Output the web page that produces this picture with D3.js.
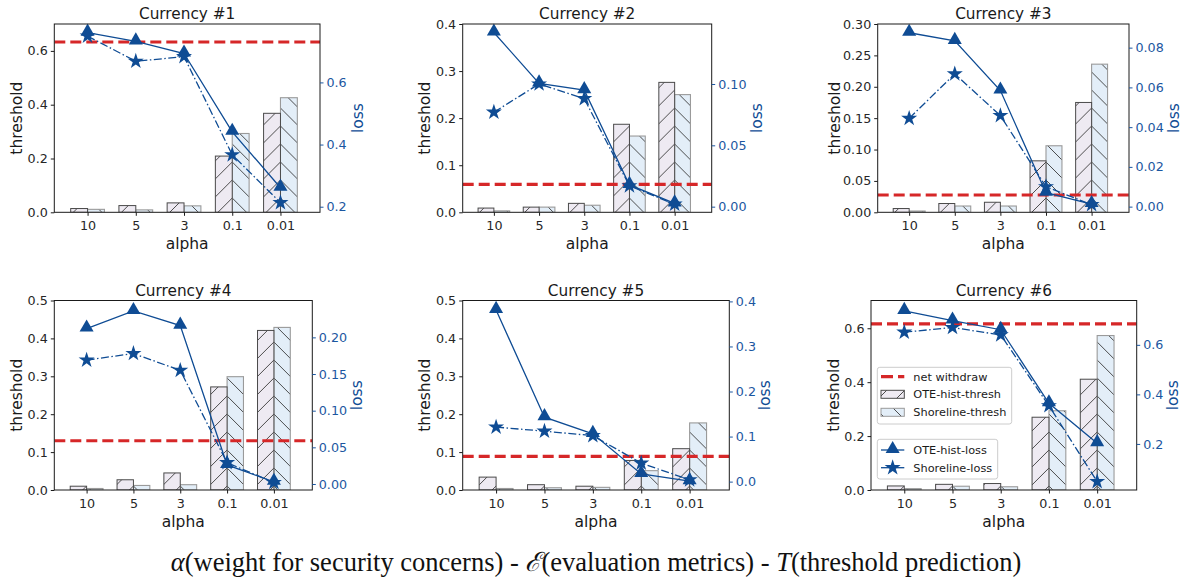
<!DOCTYPE html>
<html><head><meta charset="utf-8">
<script src="https://cdn.jsdelivr.net/npm/d3@7"></script>
<style>body{margin:0;background:#fff}svg{display:block}</style>
</head><body><svg id="c" width="1186" height="582"></svg>
<script>
// ---------------- DATA ----------------
const categories = ["10", "5", "3", "0.1", "0.01"];
const titles = ["Currency #1", "Currency #2", "Currency #3", "Currency #4", "Currency #5", "Currency #6"];
const oteThresh = [
  [0.014, 0.025, 0.035, 0.209, 0.368],
  [0.009, 0.011, 0.019, 0.187, 0.276],
  [0.006, 0.014, 0.016, 0.082, 0.175],
  [0.010, 0.027, 0.045, 0.272, 0.421],
  [0.034, 0.014, 0.010, 0.078, 0.109],
  [0.015, 0.021, 0.024, 0.270, 0.411]
];
const shoreThresh = [
  [0.011, 0.009, 0.024, 0.293, 0.426],
  [0.003, 0.011, 0.015, 0.162, 0.250],
  [0.002, 0.010, 0.010, 0.106, 0.236],
  [0.004, 0.012, 0.014, 0.299, 0.429],
  [0.004, 0.006, 0.007, 0.051, 0.177],
  [0.005, 0.014, 0.012, 0.294, 0.573]
];
const netWithdraw = [0.633, 0.0595, 0.0276, 0.130, 0.0885, 0.616];
const oteLoss = [
  [0.760, 0.732, 0.693, 0.441, 0.261],
  [0.142, 0.1005, 0.095, 0.0177, 0.0027],
  [0.0875, 0.0834, 0.0584, 0.007, 0.0013],
  [0.212, 0.236, 0.216, 0.026, 0.003],
  [0.381, 0.143, 0.106, 0.017, 0.001],
  [0.737, 0.698, 0.661, 0.364, 0.203]
];
const shoreLoss = [
  [0.749, 0.668, 0.683, 0.367, 0.213],
  [0.077, 0.100, 0.088, 0.017, 0.002],
  [0.0444, 0.0668, 0.0458, 0.010, 0.001],
  [0.169, 0.178, 0.155, 0.029, 0.002],
  [0.121, 0.112, 0.102, 0.041, 0.004],
  [0.651, 0.670, 0.640, 0.354, 0.048]
];
const threshDomains = [[0, 0.70], [0, 0.40], [0, 0.30], [0, 0.50], [0, 0.50], [0, 0.703]];
const lossDomains = [[0.182, 0.788], [-0.0046, 0.1489], [-0.00285, 0.0919], [-0.0082, 0.2503], [-0.0186, 0.402], [0.014, 0.779]];
const threshTicks = [
  [0, 0.2, 0.4, 0.6],
  [0, 0.1, 0.2, 0.3, 0.4],
  [0, 0.05, 0.10, 0.15, 0.20, 0.25, 0.30],
  [0, 0.1, 0.2, 0.3, 0.4, 0.5],
  [0, 0.1, 0.2, 0.3, 0.4, 0.5],
  [0, 0.2, 0.4, 0.6]
];
const threshDecimals = [1, 1, 2, 1, 1, 1];
const lossTicks = [
  [0.2, 0.4, 0.6],
  [0, 0.05, 0.10],
  [0, 0.02, 0.04, 0.06, 0.08],
  [0, 0.05, 0.10, 0.15, 0.20],
  [0, 0.1, 0.2, 0.3, 0.4],
  [0.2, 0.4, 0.6]
];
const lossDecimals = [1, 2, 2, 2, 1, 1];
const legendThreshLabels = ["net withdraw", "OTE-hist-thresh", "Shoreline-thresh"];
const legendLossLabels = ["OTE-hist-loss", "Shoreline-loss"];

// ---------------- LAYOUT / STYLE ----------------
const layout = [
  {l: 54.3, r: 320, t: 24, b: 212.3, ylabX: 16.7, lossX: 357.3},
  {l: 462.7, r: 711.7, t: 24, b: 212.3, ylabX: 425, lossX: 756.7},
  {l: 877.7, r: 1129, t: 24, b: 212.3, ylabX: 834.3, lossX: 1173.3},
  {l: 54.3, r: 312.3, t: 300.5, b: 490, ylabX: 16.7, lossX: 356.7},
  {l: 462.7, r: 729.3, t: 300.5, b: 490, ylabX: 425, lossX: 765},
  {l: 871, r: 1136.7, t: 300.5, b: 490, ylabX: 833.3, lossX: 1172.7}
];
const xDomain = [-0.69, 4.82];
const barW = 0.35;
const lineColor = "#0f4c94", tickBlue = "#1b56a0", red = "#d62728";
const oteFill = "#eeeaf2", shoreFill = "#e3eef8";
const hatchColor = "#3a3a3a";
const font = "'DejaVu Sans', sans-serif";
const tickFs = 12.7, labFs = 15.5, titleFs = 15.3, legFs = 11.3;
const S = 18; // hatch spacing

const svg = d3.select("#c");
const defs = svg.append("defs");
let patId = 0;
function hatch(x0, dir) {
  const id = "h" + (patId++);
  const p = defs.append("pattern").attr("id", id).attr("patternUnits", "userSpaceOnUse")
    .attr("width", S).attr("height", S).attr("x", x0).attr("y", 0);
  const d = dir > 0
    ? `M0,${S} L${S},0 M-2,2 L2,-2 M${S - 2},${S + 2} L${S + 2},${S - 2}`
    : `M0,0 L${S},${S} M-2,${S - 2} L2,${S + 2} M${S - 2},-2 L${S + 2},2`;
  p.append("path").attr("d", d).attr("stroke", hatchColor).attr("stroke-width", 0.9).attr("fill", "none");
  return "url(#" + id + ")";
}

const triangle = d3.symbol().type(d3.symbolTriangle).size(85);
const star = d3.symbol().type(d3.symbolStar).size(80);

titles.forEach((title, pi) => {
  const L = layout[pi];
  const x = d3.scaleLinear().domain(xDomain).range([L.l, L.r]);
  const y = d3.scaleLinear().domain(threshDomains[pi]).range([L.b, L.t]);
  const y2 = d3.scaleLinear().domain(lossDomains[pi]).range([L.b, L.t]);
  const g = svg.append("g");
  const clipId = "clip" + pi;
  defs.append("clipPath").attr("id", clipId).append("rect")
    .attr("x", L.l).attr("y", L.t).attr("width", L.r - L.l).attr("height", L.b - L.t);
  const plot = g.append("g").attr("clip-path", `url(#${clipId})`);

  // bars: shoreline first, then OTE (so its dark edge shows in the middle)
  categories.forEach((c, i) => {
    const xs = x(i), x0 = x(i - barW), x1 = x(i + barW);
    const vs = shoreThresh[pi][i], vo = oteThresh[pi][i];
    const pS = hatch(xs, -1), pO = hatch(xs, 1);
    plot.append("rect").attr("x", xs).attr("y", y(vs)).attr("width", x1 - xs).attr("height", y(0) - y(vs)).attr("fill", shoreFill);
    plot.append("rect").attr("x", xs).attr("y", y(vs)).attr("width", x1 - xs).attr("height", y(0) - y(vs)).attr("fill", pS)
      .attr("stroke", "#9a9a9a").attr("stroke-width", 1.1);
    plot.append("rect").attr("x", x0).attr("y", y(vo)).attr("width", xs - x0).attr("height", y(0) - y(vo)).attr("fill", oteFill);
    plot.append("rect").attr("x", x0).attr("y", y(vo)).attr("width", xs - x0).attr("height", y(0) - y(vo)).attr("fill", pO)
      .attr("stroke", "#4a4a4a").attr("stroke-width", 1);
  });

  // net withdraw
  plot.append("line").attr("x1", L.l).attr("x2", L.r).attr("y1", y(netWithdraw[pi])).attr("y2", y(netWithdraw[pi]))
    .attr("stroke", red).attr("stroke-width", 3.2).attr("stroke-dasharray", "11,5");

  // loss lines
  const line = d3.line().x((d, i) => x(i)).y(d => y2(d));
  plot.append("path").datum(oteLoss[pi]).attr("d", line).attr("fill", "none").attr("stroke", lineColor).attr("stroke-width", 1.3);
  plot.append("path").datum(shoreLoss[pi]).attr("d", line).attr("fill", "none").attr("stroke", lineColor).attr("stroke-width", 1.3)
    .attr("stroke-dasharray", "8,2.5,1.5,2.5");
  g.selectAll(null).data(oteLoss[pi]).enter().append("path").attr("d", triangle)
    .attr("transform", (d, i) => `translate(${x(i)},${y2(d) - 1})`).attr("fill", lineColor);
  g.selectAll(null).data(shoreLoss[pi]).enter().append("path").attr("d", star)
    .attr("transform", (d, i) => `translate(${x(i)},${y2(d)})`).attr("fill", lineColor);

  // frame
  g.append("rect").attr("x", L.l).attr("y", L.t).attr("width", L.r - L.l).attr("height", L.b - L.t)
    .attr("fill", "none").attr("stroke", "#1a1a1a").attr("stroke-width", 1);

  // axes
  const ax = g.append("g").attr("transform", `translate(0,${L.b})`)
    .call(d3.axisBottom(x).tickValues(d3.range(categories.length)).tickFormat(i => categories[i]).tickSize(3.5).tickPadding(5));
  const ay = g.append("g").attr("transform", `translate(${L.l},0)`)
    .call(d3.axisLeft(y).tickValues(threshTicks[pi]).tickFormat(d3.format("." + threshDecimals[pi] + "f")).tickSize(3.5).tickPadding(3));
  const ay2 = g.append("g").attr("transform", `translate(${L.r},0)`)
    .call(d3.axisRight(y2).tickValues(lossTicks[pi]).tickFormat(d3.format("." + lossDecimals[pi] + "f")).tickSize(3.5).tickPadding(3));
  [ax, ay, ay2].forEach(a => {
    a.select(".domain").remove();
    a.selectAll("text").attr("font-family", font).attr("font-size", tickFs);
  });
  ax.selectAll("text").attr("fill", "#262626");
  ay.selectAll("text").attr("fill", "#262626");
  ax.selectAll("line").attr("stroke", "#1a1a1a");
  ay.selectAll("line").attr("stroke", "#1a1a1a");
  ay2.selectAll("text").attr("fill", tickBlue);
  ay2.selectAll("line").attr("stroke", tickBlue);

  // labels
  const midY = (L.t + L.b) / 2;
  g.append("text").text(title).attr("x", (L.l + L.r) / 2).attr("y", L.t - 10).attr("dy", "0.35em")
    .attr("text-anchor", "middle").attr("font-family", font).attr("font-size", titleFs).attr("fill", "#1a1a1a");
  g.append("text").text("alpha").attr("x", (L.l + L.r) / 2).attr("y", L.b + 31.5).attr("dy", "0.35em")
    .attr("text-anchor", "middle").attr("font-family", font).attr("font-size", labFs).attr("fill", "#1a1a1a");
  g.append("text").text("threshold").attr("transform", `translate(${L.ylabX},${midY}) rotate(-90)`).attr("dy", "0.35em")
    .attr("text-anchor", "middle").attr("font-family", font).attr("font-size", labFs).attr("fill", "#1a1a1a");
  g.append("text").text("loss").attr("transform", `translate(${L.lossX},${midY}) rotate(-90)`).attr("dy", "0.35em")
    .attr("text-anchor", "middle").attr("font-family", font).attr("font-size", labFs).attr("fill", lineColor);

  // legends on last panel
  if (pi === 5) {
    const lg = svg.append("g");
    const box1 = {x: 877.3, y: 367.3, w: 134.4, h: 56.7};
    const box2 = {x: 877.3, y: 439.3, w: 120.4, h: 39.7};
    [box1, box2].forEach(b => lg.append("rect").attr("x", b.x).attr("y", b.y).attr("width", b.w).attr("height", b.h)
      .attr("rx", 2.5).attr("fill", "#fff").attr("fill-opacity", 0.8).attr("stroke", "#cccccc").attr("stroke-width", 1));
    const hx0 = 881, hx1 = 904.3, tx = 913.3;
    const rows1 = [376.7, 394.3, 412.3];
    legendThreshLabels.forEach((lab, k) => {
      const cy = rows1[k];
      if (k === 0) {
        lg.append("line").attr("x1", hx0).attr("x2", hx1).attr("y1", cy).attr("y2", cy)
          .attr("stroke", red).attr("stroke-width", 3.2).attr("stroke-dasharray", "12,5");
      } else {
        const fill = k === 1 ? oteFill : shoreFill;
        const pat = hatch(hx0, k === 1 ? 1 : -1);
        lg.append("rect").attr("x", hx0).attr("y", cy - 4).attr("width", hx1 - hx0).attr("height", 8).attr("fill", fill);
        lg.append("rect").attr("x", hx0).attr("y", cy - 4).attr("width", hx1 - hx0).attr("height", 8).attr("fill", pat)
          .attr("stroke", k === 1 ? "#4a4a4a" : "#9a9a9a").attr("stroke-width", 1);
      }
      lg.append("text").text(lab).attr("x", tx).attr("y", cy).attr("dy", "0.35em")
        .attr("font-family", font).attr("font-size", legFs).attr("fill", "#1a1a1a");
    });
    const rows2 = [450, 467.7];
    legendLossLabels.forEach((lab, k) => {
      const cy = rows2[k];
      lg.append("line").attr("x1", hx0).attr("x2", hx1).attr("y1", cy).attr("y2", cy)
        .attr("stroke", lineColor).attr("stroke-width", 1.3);
      lg.append("path").attr("d", k === 0 ? triangle : star)
        .attr("transform", `translate(${(hx0 + hx1) / 2},${cy - (k === 0 ? 1 : 0)})`).attr("fill", lineColor);
      lg.append("text").text(lab).attr("x", tx).attr("y", cy).attr("dy", "0.35em")
        .attr("font-family", font).attr("font-size", legFs).attr("fill", "#1a1a1a");
    });
  }
});

// caption
const cap = svg.append("text").attr("x", 596).attr("y", 571).attr("text-anchor", "middle")
  .attr("font-family", "'Liberation Serif', 'Times New Roman', serif").attr("font-size", 26.5).attr("fill", "#111");
cap.append("tspan").attr("font-style", "italic").text("α");
cap.append("tspan").text("(weight for security concerns) - ");
cap.append("tspan").attr("font-style", "italic").text("ℰ");
cap.append("tspan").text("(evaluation metrics) - ");
cap.append("tspan").attr("font-style", "italic").text("T");
cap.append("tspan").text("(threshold prediction)");
</script>
</body></html>
